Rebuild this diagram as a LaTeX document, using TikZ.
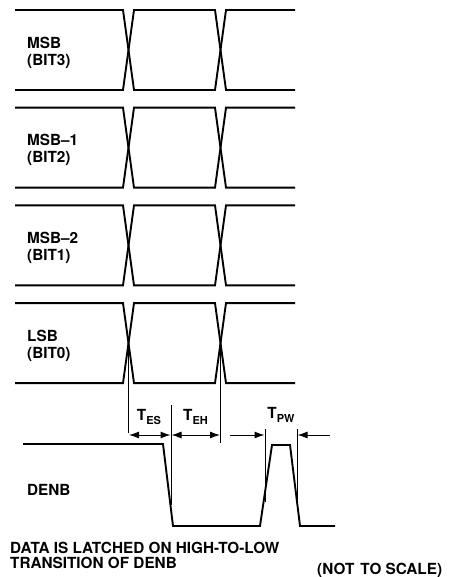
\documentclass[tikz,border=0pt]{standalone}
\usepackage{fontspec}
\setmainfont{TeX Gyre Heros}
\usetikzlibrary{arrows.meta}
\newcommand{\lbl}{\fontsize{15.3}{17}\selectfont\bfseries}
\newcommand{\subs}[1]{\raisebox{-4pt}{\fontsize{11}{11}\selectfont #1}}
\tikzset{
  sig/.style={line width=1.9pt, line join=miter},
  guide/.style={line width=0.8pt},
  dim/.style={line width=1pt, {Latex[length=10pt,width=7pt]}-{Latex[length=10pt,width=7pt]}},
  dimr/.style={line width=1pt, -{Latex[length=10pt,width=7pt]}},
  txt/.style={inner sep=0pt, font=\lbl, text=black},
}
\begin{document}
\begin{tikzpicture}[x=1pt,y=-1pt]
\useasboundingbox (0,0) rectangle (450,577);
% bus rows
\foreach \t/\na/\nb [count=\i] in {10/MSB/(BIT3), 107.7/MSB--1/(BIT2), 205.4/MSB--2/(BIT1), 303.1/LSB/(BIT0)}{
  \pgfmathsetmacro{\b}{\t+80}
  \draw[sig] (15,\t) -- (123,\t) -- (134,\b) -- (215,\b) -- (226,\t) -- (295,\t);
  \draw[sig] (15,\b) -- (123,\b) -- (134,\t) -- (215,\t) -- (226,\b) -- (295,\b);
  \node[txt, align=left, anchor=north west] (row\i) at (27,\t+26.5) {\na\\\nb};
}
% guide coordinates
\coordinate (x1t) at (128.5,343);
\coordinate (x1b) at (128.5,433);
\coordinate (mt) at (171,405);
\coordinate (mb) at (171,505);
\coordinate (x2t) at (220.5,343);
\coordinate (x2b) at (220.5,443);
\coordinate (p1t) at (265,429);
\coordinate (p1b) at (265,502);
\coordinate (p2t) at (297,429);
\coordinate (p2b) at (297,502);
\draw[guide] (x1t) -- (x1b);
\draw[guide] (mt) -- (mb);
\draw[guide] (x2t) -- (x2b);
\draw[guide] (p1t) -- (p1b);
\draw[guide] (p2t) -- (p2b);
% dimension arrows
\coordinate (a1) at (129,435);
\coordinate (a2) at (170.5,435);
\coordinate (a2b) at (171.5,435);
\coordinate (a3) at (220,435);
\coordinate (a4) at (230,435);
\coordinate (a5) at (264.5,435);
\coordinate (a6) at (330,435);
\coordinate (a7) at (297.5,435);
\draw[dim] (a1) -- (a2);
\draw[dim] (a2b) -- (a3);
\draw[dimr] (a4) -- (a5);
\draw[dimr] (a6) -- (a7);
\node[txt] (tes) at (149,417) {T\subs{ES}};
\node[txt] (teh) at (195.5,417) {T\subs{EH}};
\node[txt] (tpw) at (281,415) {T\subs{PW}};
% DENB
\draw[sig] (23,444) -- (163,444) -- (173,526) -- (260,526) -- (272,445) -- (290,445) -- (300,526) -- (335,526);
\node[txt, anchor=base west] (denb) at (27,495) {DENB};
% notes
\node[txt, align=left, anchor=north west, font=\fontsize{15.3}{15.2}\selectfont\bfseries] (note) at (10,542) {DATA IS LATCHED ON HIGH-TO-LOW\\TRANSITION OF DENB};
\node[txt, anchor=base west] (nts) at (317,574) {(NOT\hspace{6pt}TO SCALE)};
\end{tikzpicture}
\end{document}
